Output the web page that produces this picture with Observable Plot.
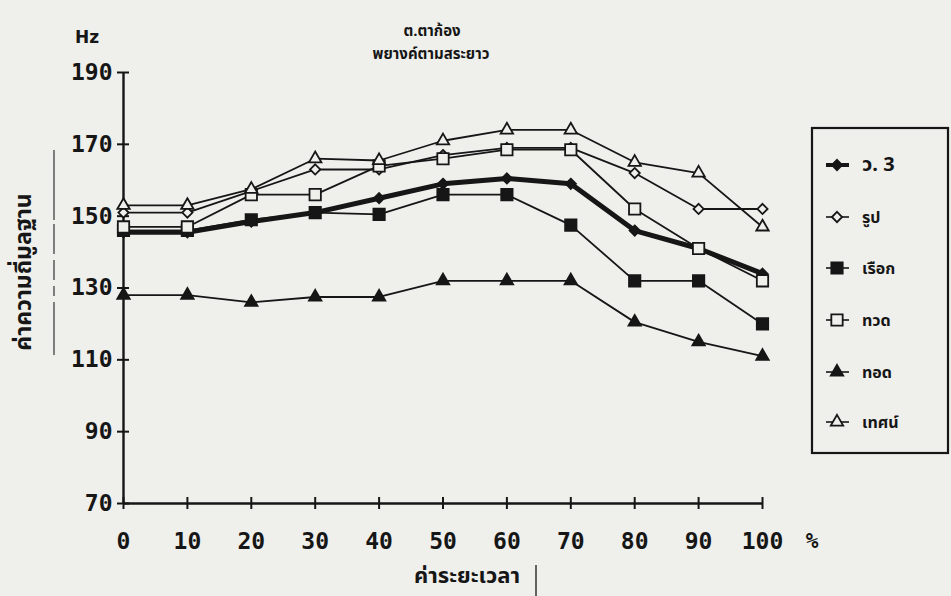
<!DOCTYPE html>
<html><head><meta charset="utf-8">
<script src="https://cdn.jsdelivr.net/npm/d3@7"></script>
<script src="https://cdn.jsdelivr.net/npm/@observablehq/plot@0.6"></script>
<style>
html,body{margin:0;padding:0;background:#efefec;}
#chart svg{display:block;}
</style></head><body><div id="chart"></div>
<script>
// ---- data ----
const pct = [0, 10, 20, 30, 40, 50, 60, 70, 80, 90, 100];
const seriesNames = ["ว. 3", "รูป", "เรือก", "ทวด", "ทอด", "เทศน์"];
const vW3   = [145.5, 145.5, 148.5, 151, 155, 159, 160.5, 159, 146, 141, 134];
const vRup  = [151, 151, 157, 163, 163, 167, 169, 169, 162, 152, 152];
const vRuak = [146, 146, 149, 151, 150.5, 156, 156, 147.5, 132, 132, 120];
const vThuat= [147, 147, 156, 156, 164, 166, 168.5, 168.5, 152, 141, 132];
const vThot = [128, 128, 126, 127.5, 127.5, 132, 132, 132, 120.5, 115, 111];
const vThet = [153, 153, 157.5, 166, 165.5, 171, 174, 174, 165, 162, 147];
const yTicks = [70, 90, 110, 130, 150, 170, 190];
const xTicks = [0, 10, 20, 30, 40, 50, 60, 70, 80, 90, 100];
const title1 = "ต.ตาก้อง";
const title2 = "พยางค์ตามสระยาว";
const yTitle = "ค่าความถี่มูลฐาน";
const xTitle = "ค่าระยะเวลา";
const yUnit = "Hz";
const xUnit = "%";

// ---- styles ----
const paper = "#efefec";
const ink = "#161616";
const seriesValues = [vW3, vRup, vRuak, vThuat, vThot, vThet];
const symbolOf = ["diamond2", "diamond2", "square", "square", "triangle", "triangle"];
const filledOf = [true, false, true, false, true, false];
const rOf = [4.6, 4.6, 6.4, 6.4, 4.6, 4.6];
const lineW = [5, 1.8, 1.8, 1.8, 1.8, 1.8];

const thaiFont = "'Noto Sans Thai','Loma','Garuda','Norasi','Tlwg Typo','Noto Sans','DejaVu Sans',sans-serif";
const numFont = "'DejaVu Sans Mono',monospace";

const rows = seriesNames.flatMap((s, i) => pct.map((p, j) => ({series: s, x: p, y: seriesValues[i][j]})));

const marks = [
  Plot.axisX({ticks: xTicks, tickSize: 6, tickPadding: 23, fontSize: 23, fontWeight: "bold", fontFamily: numFont, label: null, strokeWidth: 2}),
  Plot.axisX({ticks: xTicks, tickSize: -6, tickFormat: () => "", label: null, strokeWidth: 2}),
  Plot.axisY({ticks: yTicks, tickSize: 6, tickPadding: 5, fontSize: 23, fontWeight: "bold", fontFamily: numFont, label: null, strokeWidth: 2}),
  Plot.axisY({ticks: yTicks, tickSize: -6, tickFormat: () => "", label: null, strokeWidth: 2}),
  Plot.ruleX([0], {y1: 70, y2: 190, stroke: ink, strokeWidth: 2.4}),
  Plot.ruleY([70], {x1: 0, x2: 100, stroke: ink, strokeWidth: 2.4})
];
seriesNames.forEach((s, i) => {
  marks.push(Plot.line(rows.filter(d => d.series === s), {x: "x", y: "y", stroke: ink, strokeWidth: lineW[i]}));
});
seriesNames.forEach((s, i) => {
  marks.push(Plot.dot(rows.filter(d => d.series === s), {
    x: "x", y: "y", symbol: symbolOf[i], r: rOf[i],
    fill: filledOf[i] ? ink : paper, stroke: ink, strokeWidth: 1.8
  }));
});

const plot = Plot.plot({
  width: 951, height: 596,
  marginLeft: 123, marginRight: 189, marginTop: 72, marginBottom: 93,
  x: {domain: [0, 100]},
  y: {domain: [70, 190]},
  style: {background: paper, color: ink, overflow: "visible"},
  marks
});
document.getElementById("chart").append(plot);

// ---- annotations & legend ----
const svg = d3.select(plot);
const g = svg.append("g").attr("fill", ink);
const txt = (x, y, s, font, size, anchor = "middle") =>
  g.append("text").attr("x", x).attr("y", y).attr("text-anchor", anchor)
    .attr("font-family", font).attr("font-size", size).attr("font-weight", "bold").text(s);
txt(432, 36, title1, thaiFont, 15);
txt(431, 59, title2, thaiFont, 15);
txt(87, 43, yUnit, "'DejaVu Sans'", 17);
txt(812, 548, xUnit, numFont, 21);
txt(467, 583, xTitle, thaiFont, 22);
g.append("line").attr("x1", 536).attr("x2", 536).attr("y1", 565).attr("y2", 596).attr("stroke", ink).attr("stroke-width", 1.3);
g.append("text").attr("transform", "translate(31,272) rotate(-90)").attr("text-anchor", "middle")
  .attr("font-family", thaiFont).attr("font-size", 23).attr("font-weight", "bold").text(yTitle);
g.append("line").attr("x1", 54).attr("x2", 54).attr("y1", 150).attr("y2", 355).attr("stroke", "#333").attr("stroke-width", 1.2).attr("stroke-dasharray", "70 4 30 6 20 6 10 6 60");

const leg = svg.append("g");
leg.append("rect").attr("x", 812).attr("y", 128).attr("width", 136).attr("height", 325)
  .attr("fill", "none").attr("stroke", ink).attr("stroke-width", 2.2);
const symType = {diamond2: d3.symbolDiamond2, square: d3.symbolSquare, triangle: d3.symbolTriangle};
const legY = [165, 217, 268, 320, 372, 422];
seriesNames.forEach((s, i) => {
  const y = legY[i];
  leg.append("line").attr("x1", 826).attr("x2", 849).attr("y1", y).attr("y2", y)
    .attr("stroke", ink).attr("stroke-width", i === 0 ? 4 : 1.6);
  leg.append("path").attr("transform", `translate(837,${y})`)
    .attr("d", d3.symbol(symType[symbolOf[i]], Math.PI * rOf[i] * rOf[i])())
    .attr("fill", filledOf[i] ? ink : paper).attr("stroke", ink).attr("stroke-width", 1.8);
  leg.append("text").attr("x", 862).attr("y", y + 6).attr("text-anchor", "start").attr("font-family", thaiFont)
    .attr("font-size", i === 0 ? 20 : 16).attr("font-weight", "bold").attr("fill", ink).text(s);
});
</script>
</body></html>
